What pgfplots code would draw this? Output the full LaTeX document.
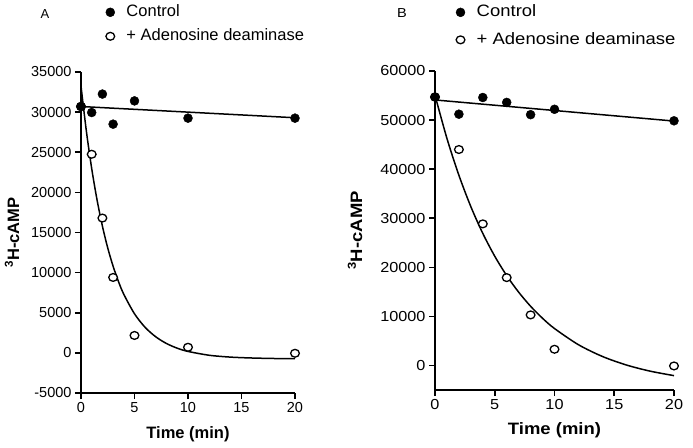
\documentclass[border=0pt]{standalone}
\usepackage{fontspec}
\setmainfont{Liberation Sans}
\newfontfamily\Bfont[FakeStretch=1.12]{Liberation Sans}
\usepackage{pgfplots}
\pgfplotsset{compat=1.18}

\pgfplotsset{
  panel/.style={
    scale only axis, clip=false,
    axis x line*=bottom, axis y line*=left,
    axis line style={-, line width=1.6pt},
    every tick/.style={black, line width=1.6pt},
    tick align=outside, major tick length=6pt,
    xmin=0, xmax=20, xtick={0,5,10,15,20},
    scaled y ticks=false, scaled x ticks=false,
    enlargelimits=false,
    /pgf/number format/.cd, 1000 sep={}, assume math mode=true, /pgfplots/.cd,
    reverse legend,
    legend style={draw=none, fill=none, anchor=north west, inner sep=0pt,
      nodes={inner sep=2pt, text height=12pt, text depth=3.5pt}},
    legend cell align=left,
    legend image code/.code={\path (-6pt,0pt) (14pt,0pt); \draw[##1] plot coordinates {(0pt,0pt)};},
  },
  fitline/.style={black, line width=1.5pt, no marks, forget plot},
  ctrl/.style={only marks, mark=*, mark size=4.5pt, mark options={fill=black, draw=black}},
  ada/.style={only marks, mark=*, mark size=3.9pt, mark options={fill=white, draw=black, line width=1.3pt, xscale=1.12}},
}

\pgfplotstableread{
t y
0 30700
1 29950
2 32250
3 28500
5 31400
10 29250
20 29250
}\ctrlA
\pgfplotstableread{
t y
0 30700
1 24750
2 16800
3 9400
5 2170
10 700
20 -50
}\adaA
\pgfplotstableread{
t y
0 54700
2 51200
4 54600
6 53600
8 51100
10 52200
20 49850
}\ctrlB
\pgfplotstableread{
t y
0 54700
2 44000
4 28850
6 17900
8 10300
10 3300
20 -100
}\adaB

\begin{document}
\begin{tikzpicture}
\path[use as bounding box] (0pt,0pt) rectangle (693pt,447pt);

% Panel A
\begin{axis}[panel,
  at={(81pt,54pt)}, anchor=south west,
  width=214pt, height=321pt,
  ymin=-5000, ymax=35000, ytick={-5000,0,5000,10000,15000,20000,25000,30000,35000},
  tick label style={font=\fontsize{14.5}{16}\selectfont},
  xlabel={\bfseries Time (min)},
  ylabel={\bfseries \textsuperscript{3}H-cAMP},
  every axis x label/.style={at={(axis description cs:0.5,-0.128)}, anchor=center, font=\fontsize{16.5}{18}\selectfont},
  every axis y label/.style={at={(axis description cs:-0.322,0.5)}, rotate=90, anchor=center, font=\fontsize{16.5}{18}\selectfont},
  legend style={at={(axis description cs:0.107,1.217)}, font=\fontsize{16.5}{19}\selectfont, row sep=4.5pt},
]
\addplot[fitline] coordinates {(0,30700) (20,29300)};
\addplot[fitline, smooth] coordinates {
(0,33250) (0.5,27650) (1,22970) (1.5,19060) (2,15800) (2.5,13070) (3,10800)
(3.5,8900) (4,7300) (5,4870) (6,3170) (7,1990) (8,1160) (9,580) (10,180)
(12,-300) (14,-530) (16,-640) (18,-700) (20,-725)};
\addplot[ada] table[x=t,y=y] {\adaA};
\addlegendentry{+ Adenosine deaminase}
\addplot[ctrl] table[x=t,y=y] {\ctrlA};
\addlegendentry{Control}
\node[font=\fontsize{13}{15}\selectfont, anchor=center] at (axis description cs:-0.168,1.181) {A};
\end{axis}

% Panel B
\begin{axis}[panel,
  at={(435pt,57pt)}, anchor=south west,
  width=239pt, height=319pt,
  ymin=-5000, ymax=60000, ytick={0,10000,20000,30000,40000,50000,60000},
  tick label style={font=\Bfont\fontsize{14.5}{16}\selectfont},
  xlabel={\bfseries Time (min)},
  ylabel={\bfseries \textsuperscript{3}H-cAMP},
  every axis x label/.style={at={(axis description cs:0.5,-0.1276)}, anchor=center, font=\Bfont\fontsize{16.5}{18}\selectfont},
  every axis y label/.style={at={(axis description cs:-0.335,0.5)}, rotate=90, anchor=center, font=\Bfont\fontsize{16.5}{18}\selectfont},
  legend style={at={(axis description cs:0.08,1.215)}, font=\Bfont\fontsize{16.5}{19}\selectfont, row sep=8pt},
]
\addplot[fitline] coordinates {(0,54100) (20,49800)};
\addplot[fitline, smooth] coordinates {
(0,55060) (1,46250) (2,38750) (3,32355) (4,26906) (5,22260) (6,18306) (7,14934)
(8,12058) (9,9610) (10,7525) (12,4232) (14,1843) (16,104) (18,-1159) (20,-2070)};
\addplot[ada] table[x=t,y=y] {\adaB};
\addlegendentry{+ Adenosine deaminase}
\addplot[ctrl] table[x=t,y=y] {\ctrlB};
\addlegendentry{Control}
\node[font=\Bfont\fontsize{13}{15}\selectfont, anchor=center] at (axis description cs:-0.138,1.182) {B};
\end{axis}
\end{tikzpicture}
\end{document}
